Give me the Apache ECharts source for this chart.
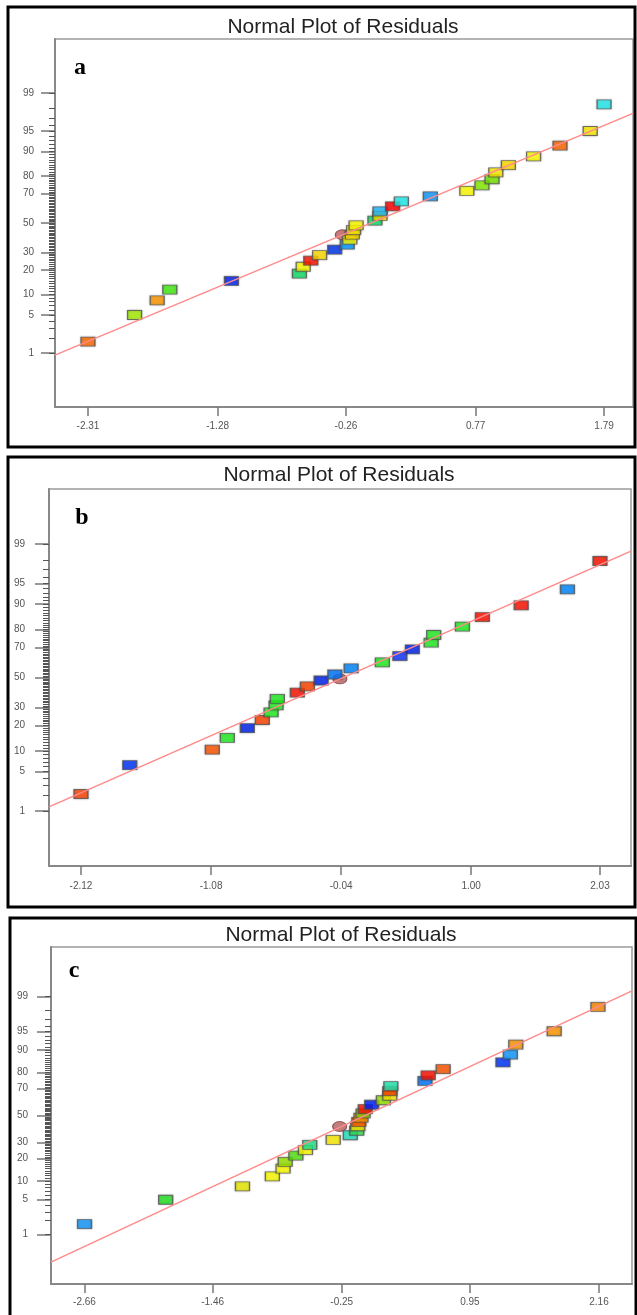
<!DOCTYPE html>
<html>
<head>
<meta charset="utf-8">
<title>Normal Plot of Residuals</title>
<script src="https://cdn.jsdelivr.net/npm/echarts@6/dist/echarts.min.js"></script>
<style>
  html, body { margin: 0; padding: 0; background: #fff; }
  #chart { width: 637px; height: 1315px; }
</style>
</head>
<body>
<div id="chart"></div>
<script>
// normal % probability ticks (same on all three panels)
const probTicks = [1, 5, 10, 20, 30, 50, 70, 80, 90, 95, 99]
const probMinor = Array.from({ length: 99 }, (_, i) => i + 1)

// panel a
const xTicksA = [-2.31, -1.28, -0.26, 0.77, 1.79]
const xRangeA = [-2.572, 2.02]
const resA = [-2.31, -1.94, -1.76, -1.66, -1.17, -0.63, -0.60, -0.54, -0.47, -0.35,
  -0.25, -0.23, -0.21, -0.20, -0.18, -0.03, 0.01, 0.01, 0.11, 0.18,
  0.41, 0.70, 0.82, 0.90, 0.93, 1.03, 1.23, 1.44, 1.68, 1.79]
const probA = [1.7, 5, 8.3, 11.7, 15, 18.3, 21.7, 25, 28.3, 31.7,
  35, 38.3, 41.7, 45, 48.3, 51.7, 55, 58.3, 61.7, 65,
  68.3, 71.7, 75, 78.3, 81.7, 85, 88.3, 91.7, 95, 98.3]
const colorsA = ['#ff6a00', '#a8f000', '#ff9900', '#44f011', '#0022ee', '#11e066', '#ffff00', '#ff1100', '#ffdd00', '#0033ee',
  '#0099ff', '#ffff00', '#ffdd00', '#ffee00', '#ffff00', '#11e066', '#ffdd00', '#22bbff', '#ff0000', '#22eeee',
  '#1199ff', '#ffff00', '#88f000', '#77e600', '#ffee00', '#ffdd00', '#ffff00', '#ff6600', '#ffee00', '#22eeee']
const centerA = [-0.29, 41.7]
const fitXA = [-2.572, 2.02]
const fitPA = [0.91, 97.5]

// panel b
const xTicksB = [-2.12, -1.08, -0.04, 1.00, 2.03]
const xRangeB = [-2.376, 2.278]
const resB = [-2.12, -1.73, -1.07, -0.95, -0.79, -0.67, -0.60, -0.56, -0.55, -0.39,
  -0.31, -0.20, -0.09, 0.04, 0.29, 0.43, 0.53, 0.68, 0.70, 0.93,
  1.09, 1.40, 1.77, 2.03]
const probB = [2.1, 6.3, 10.4, 14.6, 18.8, 22.9, 27.1, 31.3, 35.4, 39.6,
  43.8, 47.9, 52.1, 56.3, 60.4, 64.6, 68.8, 72.9, 77.1, 81.3,
  85.4, 89.6, 93.8, 97.9]
const colorsB = ['#ff4400', '#0033ff', '#ff5500', '#22f022', '#0022ee', '#ff4400', '#22f022', '#22f022', '#22f022', '#ff1100',
  '#ff4400', '#0022ee', '#0077ff', '#0088ff', '#22f022', '#1133ff', '#0022ee', '#22f022', '#22f022', '#22f022',
  '#ff1100', '#ff1100', '#0088ff', '#ff1100']
const centerB = [-0.05, 49]
const fitXB = [-2.376, 2.278]
const fitPB = [1.2, 98.63]

// panel c
const xTicksC = [-2.66, -1.46, -0.25, 0.95, 2.16]
const xRangeC = [-2.974, 2.469]
const resC = [-2.66, -1.90, -1.18, -0.90, -0.80, -0.78, -0.68, -0.59, -0.55, -0.33,
  -0.17, -0.11, -0.10, -0.09, -0.07, -0.05, -0.03, 0.03, 0.14, 0.20,
  0.20, 0.21, 0.53, 0.56, 0.70, 1.26, 1.33, 1.38, 1.74, 2.15]
const probC = [1.7, 5, 8.3, 11.7, 15, 18.3, 21.7, 25, 28.3, 31.7,
  35, 38.3, 41.7, 45, 48.3, 51.7, 55, 58.3, 61.7, 65,
  68.3, 71.7, 75, 78.3, 81.7, 85, 88.3, 91.7, 95, 98.3]
const colorsC = ['#1199ff', '#22e622', '#eeee00', '#ffff00', '#ffff00', '#99e600', '#55e611', '#ffff00', '#22e688', '#ffee00',
  '#22e6c0', '#33e655', '#ffee00', '#ff5500', '#ff9900', '#88d600', '#ff1100', '#0022ff', '#99e600', '#ffee00',
  '#ff4400', '#22e6b0', '#0077ff', '#ff1100', '#ff5500', '#0033ff', '#1199ff', '#ff9900', '#ff9900', '#ff8800']
const centerC = [-0.27, 41.5]
const fitXC = [-2.974, 2.469]
const fitPC = [0.21, 99.25]

const zRange = [-3.29, 3.29]

// inverse normal cdf (Acklam), percent -> z
function probit(pct) {
  const p = pct / 100
  const a = [-39.69683028665376, 220.9460984245205, -275.9285104469687, 138.3577518672690, -30.66479806614716, 2.506628277459239]
  const b = [-54.47609879822406, 161.5858368580409, -155.6989798598866, 66.80131188771972, -13.28068155288572]
  const c = [-0.007784894002430293, -0.3223964580411365, -2.400758277161838, -2.549732539343734, 4.374664141464968, 2.938163982698783]
  const d = [0.007784695709041462, 0.3224671290700398, 2.445134137142996, 3.754408661907416]
  const tail = (q) => (((((c[0] * q + c[1]) * q + c[2]) * q + c[3]) * q + c[4]) * q + c[5]) /
    ((((d[0] * q + d[1]) * q + d[2]) * q + d[3]) * q + 1)
  if (p < 0.02425) return tail(Math.sqrt(-2 * Math.log(p)))
  if (p > 1 - 0.02425) return -tail(Math.sqrt(-2 * Math.log(1 - p)))
  const q = p - 0.5
  const r = q * q
  return (((((a[0] * r + a[1]) * r + a[2]) * r + a[3]) * r + a[4]) * r + a[5]) * q /
    (((((b[0] * r + b[1]) * r + b[2]) * r + b[3]) * r + b[4]) * r + 1)
}

const majorZ = probTicks.map(probit)
const minorZ = probMinor.map(probit)

const panels = [
  { letter: 'a', res: resA, prob: probA, colors: colorsA, center: centerA, fitX: fitXA, fitP: fitPA, xTicks: xTicksA, xRange: xRangeA,
    box: [8, 7, 627, 440], title: [343, 27], letterPos: [80, 68],
    grid: { left: 55, top: 39, width: 578, height: 368 }, yMargin: 21, xMargin: 14 },
  { letter: 'b', res: resB, prob: probB, colors: colorsB, center: centerB, fitX: fitXB, fitP: fitPB, xTicks: xTicksB, xRange: xRangeB,
    box: [8, 457, 627, 450], title: [339, 475], letterPos: [82, 518],
    grid: { left: 49, top: 489, width: 582, height: 377 }, yMargin: 24, xMargin: 15 },
  { letter: 'c', res: resC, prob: probC, colors: colorsC, center: centerC, fitX: fitXC, fitP: fitPC, xTicks: xTicksC, xRange: xRangeC,
    box: [10, 918, 626, 420], title: [341, 935], letterPos: [74, 971],
    grid: { left: 51, top: 947, width: 581, height: 337 }, yMargin: 23, xMargin: 13 },
]

const labelFont = { color: '#555', fontSize: 10, fontFamily: 'Liberation Sans, Arial, sans-serif' }

const grid = []
const xAxis = []
const yAxis = []
const series = []
const graphic = []

panels.forEach((pn, i) => {
  grid.push({ ...pn.grid, show: true, borderColor: '#9a9a9a', borderWidth: 1.5, backgroundColor: '#fff' })

  xAxis.push({
    type: 'value', gridIndex: i, position: 'bottom', min: pn.xRange[0], max: pn.xRange[1],
    splitLine: { show: false },
    axisLine: { onZero: false, lineStyle: { color: '#888', width: 2 } },
    axisTick: { customValues: pn.xTicks, length: 9, lineStyle: { color: '#777', width: 1.5 } },
    axisLabel: { customValues: pn.xTicks, margin: pn.xMargin, formatter: (v) => v.toFixed(2), ...labelFont },
  })

  // major probability ticks with labels
  yAxis.push({
    type: 'value', gridIndex: i, position: 'left', min: zRange[0], max: zRange[1],
    splitLine: { show: false },
    axisLine: { onZero: false, lineStyle: { color: '#888', width: 2 } },
    axisTick: { customValues: majorZ, length: 14, lineStyle: { color: '#777', width: 1.5 } },
    axisLabel: {
      customValues: majorZ, margin: pn.yMargin, ...labelFont,
      formatter: (v) => {
        const k = majorZ.findIndex(z => Math.abs(z - v) < 1e-6)
        return k >= 0 ? String(probTicks[k]) : ''
      },
    },
  })
  // minor ticks at every percent
  yAxis.push({
    type: 'value', gridIndex: i, position: 'left', offset: 0, min: zRange[0], max: zRange[1],
    splitLine: { show: false },
    axisLine: { show: false, onZero: false },
    axisLabel: { show: false },
    axisTick: { customValues: minorZ, length: 6, lineStyle: { color: '#555', width: 1 } },
  })

  series.push({
    type: 'line', xAxisIndex: i, yAxisIndex: i * 2,
    data: pn.fitX.map((x, k) => [x, probit(pn.fitP[k])]),
    showSymbol: false, silent: true,
    lineStyle: { color: '#ff8a8a', width: 1.5 },
  })
  series.push({
    type: 'scatter', xAxisIndex: i, yAxisIndex: i * 2,
    symbol: 'circle', symbolSize: [14, 10],
    data: [[pn.center[0], probit(pn.center[1])]],
    itemStyle: { color: '#b45c5c', borderColor: '#7a3a3a', borderWidth: 1 },
  })
  series.push({
    type: 'scatter', xAxisIndex: i, yAxisIndex: i * 2,
    symbol: 'rect', symbolSize: [14, 9],
    data: pn.res.map((x, k) => ({ value: [x, probit(pn.prob[k])], itemStyle: { color: pn.colors[k] } })),
    itemStyle: { borderColor: '#555', borderWidth: 1, shadowBlur: 2, shadowColor: 'rgba(0,0,0,0.3)' },
  })

  graphic.push({
    type: 'rect', shape: { x: pn.box[0], y: pn.box[1], width: pn.box[2], height: pn.box[3] },
    style: { fill: 'none', stroke: '#000', lineWidth: 3 }, z: 100,
  })
  graphic.push({
    type: 'text', x: pn.title[0], y: pn.title[1],
    style: { text: 'Normal Plot of Residuals', align: 'center', verticalAlign: 'middle',
      font: '21px Liberation Sans, Arial, sans-serif', fill: '#222' },
  })
  graphic.push({
    type: 'text', x: pn.letterPos[0], y: pn.letterPos[1], z: 100,
    style: { text: pn.letter, align: 'center', verticalAlign: 'middle',
      font: 'bold 24px Liberation Serif, Times New Roman, serif', fill: '#000' },
  })
})

const chart = echarts.init(document.getElementById('chart'))
chart.setOption({
  animation: false,
  backgroundColor: '#fff',
  grid, xAxis, yAxis, series, graphic,
})
</script>
</body>
</html>
